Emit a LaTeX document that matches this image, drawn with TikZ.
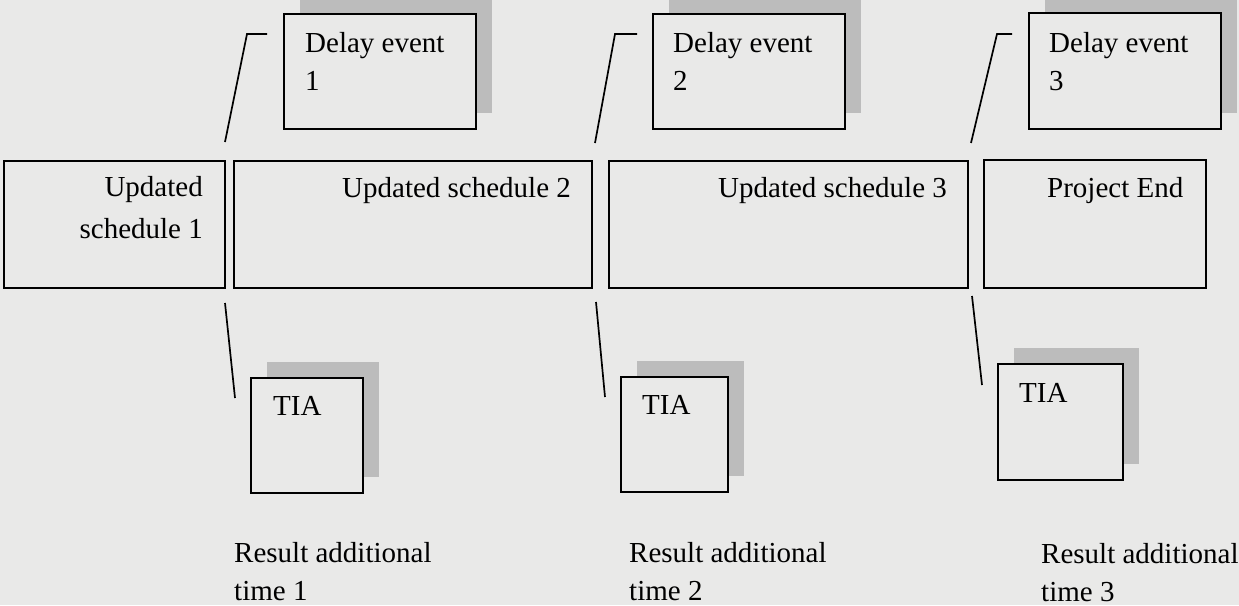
\documentclass[tikz,border=0pt]{standalone}
\usepackage{fontspec}
\setmainfont{Liberation Serif}
\usetikzlibrary{shadows}
\definecolor{bg}{RGB}{233,233,232}
\definecolor{shade}{RGB}{188,188,188}
\begin{document}
\begin{tikzpicture}[x=1pt,y=-1pt,
  box/.style={draw=black, line width=1.8pt, fill=bg, inner sep=0pt, anchor=north west},
  shbox/.style={box, general shadow={fill=shade, shadow xshift=16pt, shadow yshift=16pt}},
  lbl/.style={anchor=base west, inner sep=0pt, font=\fontsize{29}{38}\selectfont, align=left},
  lblr/.style={anchor=base east, inner sep=0pt, font=\fontsize{29}{42}\selectfont, align=right},
  conn/.style={line width=1.7pt}]
\useasboundingbox[fill=bg] (0,0) rectangle (1239,605);

% delay event boxes
\node[shbox, minimum width=192pt, minimum height=115pt] (d1) at (283,13) {};
\node[shbox, minimum width=192pt, minimum height=115pt] (d2) at (652,13) {};
\node[shbox, minimum width=192pt, minimum height=116pt] (d3) at (1028,12) {};
% multi-line labels: base = baseline of the last line
\node[lbl] (d1t) at (305,90) {Delay event\\1};
\node[lbl] (d2t) at (673,90) {Delay event\\2};
\node[lbl] (d3t) at (1049,90) {Delay event\\3};

% schedule boxes
\node[box, minimum width=221pt, minimum height=127pt] (s1) at (3,160) {};
\node[box, minimum width=358pt, minimum height=127pt] (s2) at (233,160) {};
\node[box, minimum width=359pt, minimum height=127pt] (s3) at (608,160) {};
\node[box, minimum width=222pt, minimum height=128pt] (s4) at (983,159) {};
\node[lblr] (s1t) at (203,238) {Updated\\schedule 1};
\node[lbl] (s2t) at (342,197) {Updated schedule 2};
\node[lbl] (s3t) at (718,197) {Updated schedule 3};
\node[lbl] (s4t) at (1047,197) {Project End};

% TIA boxes
\node[shbox, minimum width=112pt, minimum height=115pt] (T1) at (250,377) {};
\node[shbox, minimum width=107pt, minimum height=115pt] (T2) at (620,376) {};
\node[shbox, minimum width=125pt, minimum height=116pt] (T3) at (997,363) {};
\node[lbl] (T1t) at (273,415) {TIA};
\node[lbl] (T2t) at (642,414) {TIA};
\node[lbl] (T3t) at (1019,402) {TIA};

% results
\node[lbl] (r1) at (234,600) {Result additional\\time 1};
\node[lbl] (r2) at (629,600) {Result additional\\time 2};
\node[lbl] (r3) at (1041,601) {Result additional\\time 3};

% connectors
\coordinate (a1) at (267,34); \coordinate (b1) at (247,34); \coordinate (c1) at (225,142);
\coordinate (a2) at (637,34); \coordinate (b2) at (615,34); \coordinate (c2) at (595,143);
\coordinate (a3) at (1012,34); \coordinate (b3) at (997,34); \coordinate (c3) at (971,143);
\draw[conn] (a1) -- (b1) -- (c1);
\draw[conn] (a2) -- (b2) -- (c2);
\draw[conn] (a3) -- (b3) -- (c3);
\coordinate (e1) at (225,303); \coordinate (f1) at (235,398);
\coordinate (e2) at (596,302); \coordinate (f2) at (605,397);
\coordinate (e3) at (972,296); \coordinate (f3) at (982,385);
\draw[conn] (e1) -- (f1);
\draw[conn] (e2) -- (f2);
\draw[conn] (e3) -- (f3);
\end{tikzpicture}
\end{document}
